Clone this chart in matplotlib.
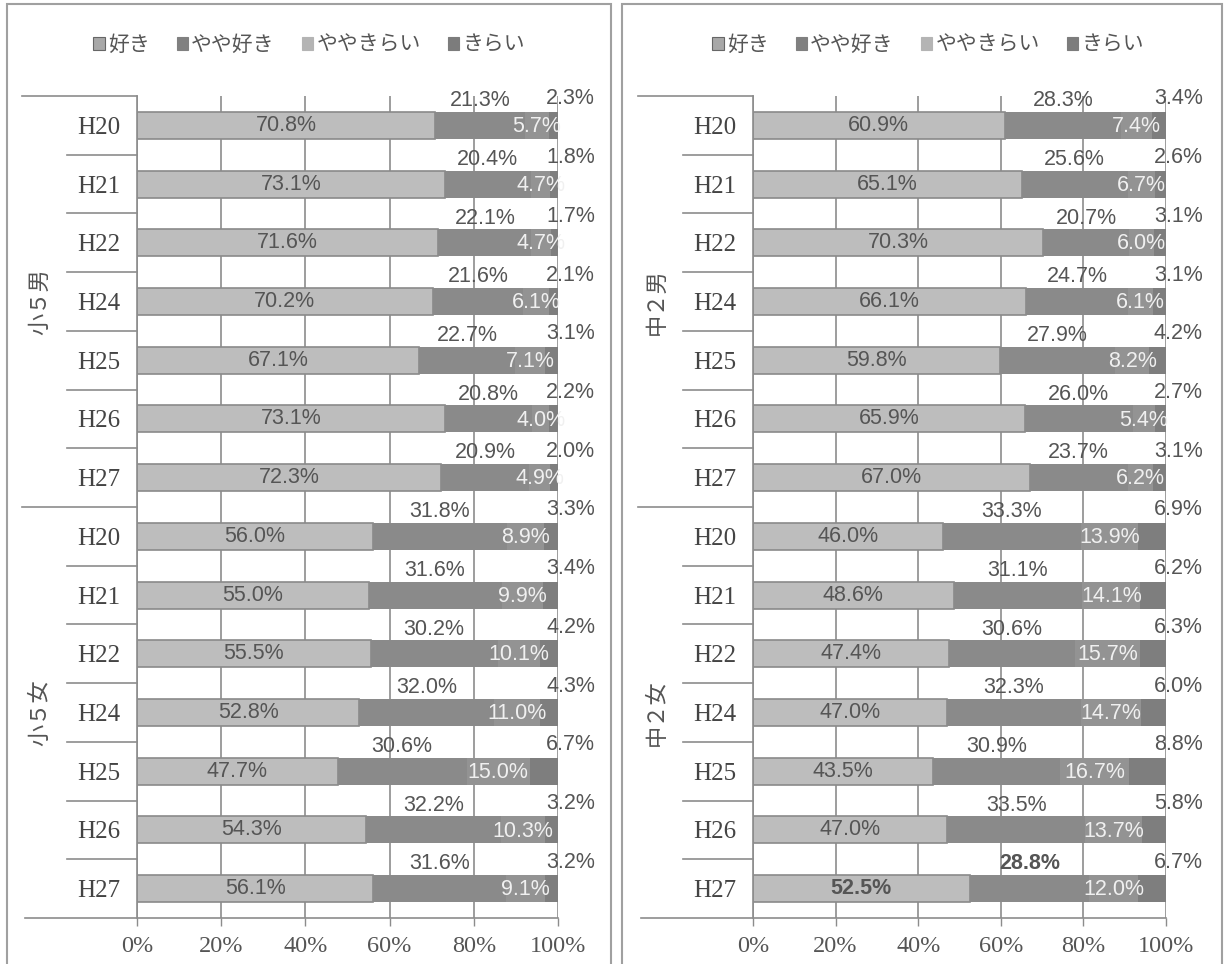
import numpy as np
import matplotlib.pyplot as plt
from matplotlib.patches import Patch, Rectangle
from matplotlib.transforms import blended_transform_factory

plt.rcParams['font.family'] = ['Liberation Sans', 'Noto Sans CJK JP', 'DejaVu Sans']

# 回答区分
answers = ['好き', 'やや好き', 'ややきらい', 'きらい']
years = ['H20', 'H21', 'H22', 'H24', 'H25', 'H26', 'H27']

# 小学5年 (男 H20-H27, 女 H20-H27)
groups_sho = ['小５男', '小５女']
suki_sho = [70.8, 73.1, 71.6, 70.2, 67.1, 73.1, 72.3,
            56.0, 55.0, 55.5, 52.8, 47.7, 54.3, 56.1]
yayasuki_sho = [21.3, 20.4, 22.1, 21.6, 22.7, 20.8, 20.9,
                31.8, 31.6, 30.2, 32.0, 30.6, 32.2, 31.6]
yayakirai_sho = [5.7, 4.7, 4.7, 6.1, 7.1, 4.0, 4.9,
                 8.9, 9.9, 10.1, 11.0, 15.0, 10.3, 9.1]
kirai_sho = [2.3, 1.8, 1.7, 2.1, 3.1, 2.2, 2.0,
             3.3, 3.4, 4.2, 4.3, 6.7, 3.2, 3.2]

# 中学2年
groups_chu = ['中２男', '中２女']
suki_chu = [60.9, 65.1, 70.3, 66.1, 59.8, 65.9, 67.0,
            46.0, 48.6, 47.4, 47.0, 43.5, 47.0, 52.5]
yayasuki_chu = [28.3, 25.6, 20.7, 24.7, 27.9, 26.0, 23.7,
                33.3, 31.1, 30.6, 32.3, 30.9, 33.5, 28.8]
yayakirai_chu = [7.4, 6.7, 6.0, 6.1, 8.2, 5.4, 6.2,
                 13.9, 14.1, 15.7, 14.7, 16.7, 13.7, 12.0]
kirai_chu = [3.4, 2.6, 3.1, 3.1, 4.2, 2.7, 3.1,
             6.9, 6.2, 6.3, 6.0, 8.8, 5.8, 6.7]

W, H = 1227, 964
fig = plt.figure(figsize=(W / 100, H / 100), dpi=100)
fig.patch.set_facecolor('white')

bar_colors = ['#bdbdbd', '#8a8a8a', '#939393', '#7e7e7e']
legend_colors = ['#a8a8a8', '#808080', '#b4b4b4', '#7c7c7c']
line_c = '#8c8c8c'
text_c = '#555555'
serif = 'Liberation Serif'


def add_px_axes(x0, x1, y0, y1):
    return fig.add_axes([x0 / W, 1 - y1 / H, (x1 - x0) / W, (y1 - y0) / H])


def draw_panel(ax, series, groups, legend_x, bold_last=False):
    vals = np.array(series)
    n = vals.shape[1]
    y = np.arange(n)
    ax_px = ax.get_position().width * W
    trans = blended_transform_factory(ax.transAxes, ax.transData)

    left = np.zeros(n)
    for i in range(4):
        ax.barh(y, vals[i], left=left, height=0.46, color=bar_colors[i],
                edgecolor='#8a8a8a' if i == 0 else bar_colors[i],
                linewidth=1.2 if i == 0 else 0, zorder=2)
        left += vals[i]

    for j in range(n):
        s, ys, yk, k = vals[:, j]
        fw = 'bold' if (bold_last and j == n - 1) else 'normal'
        kw = dict(fontsize=15.5, ha='center', va='center', zorder=3)
        ax.text(s / 2, j, f'{s:.1f}%', color=text_c, fontweight=fw, **kw)
        ax.text(s + ys / 2, j - 0.42, f'{ys:.1f}%', color=text_c, fontweight=fw, **kw)
        ax.text(s + ys + yk / 2, j + 0.02, f'{yk:.1f}%', color='#f0f0f0', **kw)
        ax.text(103, j - 0.45, f'{k:.1f}%', color=text_c, clip_on=False, **kw)

    ax.set_xlim(0, 100)
    ax.set_ylim(n - 0.5, -0.5)
    ax.set_xticks([0, 20, 40, 60, 80, 100])
    ax.set_xticklabels([f'{t}%' for t in [0, 20, 40, 60, 80, 100]],
                       fontfamily=serif, fontsize=17.5, color=text_c)
    ax.set_yticks(y)
    ax.set_yticklabels(years * 2, fontfamily=serif, fontsize=18, color='#444444')
    ax.tick_params(axis='x', length=6, width=1, color=line_c, pad=7)
    ax.tick_params(axis='y', length=0, pad=12)
    ax.grid(axis='x', color=line_c, linewidth=1.2, zorder=0)
    ax.set_axisbelow(True)
    for side in ['top', 'right', 'bottom']:
        ax.spines[side].set_visible(False)
    ax.spines['left'].set_color(line_c)
    ax.spines['left'].set_linewidth(1.2)

    # 区切り線 (年度ごとは短く、男女の境目は長く)
    for b in np.arange(n - 1) + 0.5:
        if b == n / 2 - 0.5:
            continue
        ax.plot([-70 / ax_px, 0], [b, b], transform=trans, color=line_c,
                lw=1.2, clip_on=False)
    for b in [-0.5, n / 2 - 0.5]:
        ax.plot([-115 / ax_px, 0], [b, b], transform=trans, color=line_c,
                lw=1.2, clip_on=False)
    ax.plot([-112 / ax_px, 1], [n - 0.5, n - 0.5], transform=trans, color=line_c,
            lw=1.2, clip_on=False)

    half = n // 2
    for g, name in enumerate(groups):
        ax.text(-97 / ax_px, g * half + (half - 1) / 2, name, transform=trans,
                rotation=90, ha='center', va='center', fontsize=16, color=text_c,
                family=['Noto Sans CJK JP'])

    handles = [Patch(facecolor=c, edgecolor='#666666' if i == 0 else c, linewidth=0.8)
               for i, c in enumerate(legend_colors)]
    ax.legend(handles, answers, loc='center', bbox_to_anchor=(legend_x / W, 1 - 45 / H),
              bbox_transform=fig.transFigure, ncol=4, frameon=False,
              handlelength=0.55, handleheight=0.55, handletextpad=0.15,
              columnspacing=1.3, labelcolor=text_c,
              prop={'family': ['Noto Sans CJK JP'], 'size': 15})


ax1 = add_px_axes(137, 558, 96, 918)
draw_panel(ax1, [suki_sho, yayasuki_sho, yayakirai_sho, kirai_sho], groups_sho, 309)

ax2 = add_px_axes(753, 1166, 96, 918)
draw_panel(ax2, [suki_chu, yayasuki_chu, yayakirai_chu, kirai_chu], groups_chu, 928,
           bold_last=True)

# 外枠
for x0, x1 in [(7, 611), (622, 1222)]:
    fig.add_artist(Rectangle((x0 / W, -0.01), (x1 - x0) / W, 1.01 - 4 / H,
                             transform=fig.transFigure, fill=False,
                             edgecolor='#a0a0a0', linewidth=1.5))

fig.savefig('out.png', dpi=100, facecolor='white')
